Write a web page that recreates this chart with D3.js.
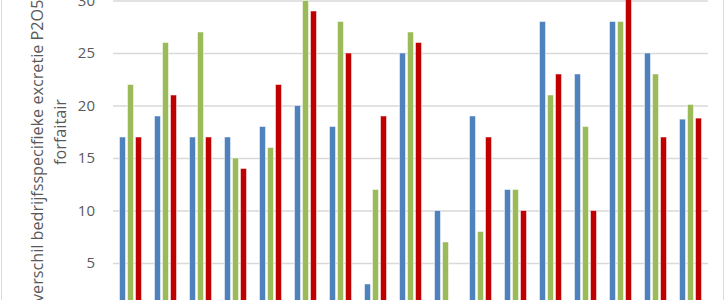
<!DOCTYPE html>
<html lang="nl">
<head>
  <meta charset="UTF-8">
  <title>Verschil excretie P2O5</title>
  <script src="https://d3js.org/d3.v7.min.js"></script>
  <style>
    body { margin: 0; background: #fff; }
    svg { display: block; }
  </style>
</head>
<body>
  <div id="chart"></div>

  <script>
    // groepen (bedrijven), geen labels zichtbaar in de uitsnede
    const categories = d3.range(1, 18).map(String);
    const series = ['blauw', 'groen', 'rood'];
    const blueValues  = [17, 19, 17, 17, 18, 20, 18, 3, 25, 10, 19, 12, 28, 23, 28, 25, 18.7];
    const greenValues = [22, 26, 27, 15, 16, 30, 28, 12, 27, 7, 8, 12, 21, 18, 28, 23, 20.1];
    const redValues   = [17, 21, 17, 14, 22, 29, 25, 19, 26, null, 17, 10, 23, 10, 31, 17, 18.8];
    const yTicks = [5, 10, 15, 20, 25, 30];
    const colors = ['#4f81bd', '#9bbb59', '#c00000'];
    const axisTitle = ['verschil bedrijfsspecifieke excretie P2O5', 'forfaitair'];

    const W = 725, H = 300;
    const svg = d3.select('#chart').append('svg')
      .attr('width', W)
      .attr('height', H);

    // chart border
    svg.append('rect')
      .attr('x', 1.5).attr('y', -10)
      .attr('width', 722).attr('height', H + 20)
      .attr('fill', 'none')
      .attr('stroke', '#d9d9d9')
      .attr('stroke-width', 1);

    const plotLeft = 113, plotRight = 708;

    const x0 = d3.scaleBand()
      .domain(categories)
      .range([plotLeft, plotRight])
      .paddingInner(0.371)
      .paddingOuter(0.1855);

    const x1 = d3.scaleBand()
      .domain(series)
      .range([0, x0.bandwidth()])
      .paddingInner(0.25);

    const y = d3.scaleLinear()
      .domain([0, 30])
      .range([315.5, 0.5]);

    // gridlines + tick labels
    const yAxis = svg.append('g')
      .attr('transform', `translate(${plotLeft},0)`)
      .call(d3.axisLeft(y)
        .tickValues(yTicks)
        .tickSize(-(plotRight - plotLeft))
        .tickPadding(18));
    yAxis.select('.domain').remove();
    yAxis.selectAll('.tick line')
      .attr('stroke', '#d9d9d9')
      .attr('stroke-width', 1.3);
    yAxis.selectAll('.tick text')
      .attr('fill', '#595959')
      .attr('font-family', '"Open Sans", sans-serif')
      .attr('font-size', '15px');

    // bars
    const data = categories.map((c, i) => ({
      cat: c,
      vals: [blueValues[i], greenValues[i], redValues[i]]
    }));

    const groups = svg.append('g').selectAll('g')
      .data(data)
      .join('g')
      .attr('transform', d => `translate(${x0(d.cat)},0)`);

    groups.selectAll('rect')
      .data(d => d.vals.map((v, j) => ({ key: series[j], v, j })).filter(e => e.v != null))
      .join('rect')
      .attr('x', e => x1(e.key))
      .attr('y', e => y(e.v))
      .attr('width', x1.bandwidth())
      .attr('height', e => y(0) - y(e.v))
      .attr('fill', e => colors[e.j])
      .attr('stroke', '#ffffff')
      .attr('stroke-opacity', 0.5)
      .attr('stroke-width', 1);

    // axis title, rotated (first line runs off the top/bottom like the original)
    const title = svg.append('text')
      .attr('transform', 'rotate(-90)')
      .attr('fill', '#595959')
      .attr('font-family', '"Open Sans", sans-serif')
      .attr('font-size', '16.2px');
    title.append('tspan')
      .attr('x', -302)
      .attr('y', 43)
      .attr('text-anchor', 'start')
      .text(axisTitle[0]);
    title.append('tspan')
      .attr('x', -132)
      .attr('y', 66)
      .attr('text-anchor', 'middle')
      .text(axisTitle[1]);
  </script>
</body>
</html>
